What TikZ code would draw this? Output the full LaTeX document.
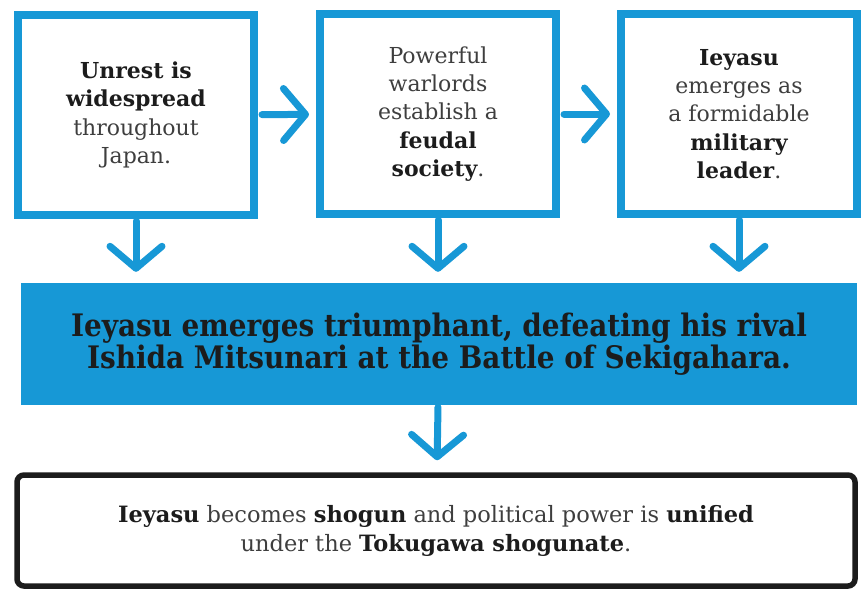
\documentclass[tikz,border=0pt]{standalone}
\usepackage{fontspec}
\setmainfont{DejaVu Serif}
\newfontfamily\bandfont{DejaVu Serif Condensed}
\usetikzlibrary{arrows.meta}
\definecolor{hblue}{RGB}{23,152,214}
\definecolor{ink}{RGB}{28,28,28}
\definecolor{softink}{RGB}{62,62,62}
\newcommand{\hl}[1]{{\bfseries\color{ink}#1}}

\begin{document}
\begin{tikzpicture}[x=1pt,y=-1pt,
    box/.style={draw=hblue,line width=8pt,minimum width=236pt,minimum height=200pt,
      align=center,text=softink,font=\fontsize{22}{28.3}\selectfont},
    flow/.style={draw=hblue,line width=7pt,line cap=round,
      -{Straight Barb[length=22pt,width=52pt,round]}}]
    \useasboundingbox (0,0) rectangle (862,589);
    % the three causes
    \node[box] (unrest) at (136,115) {\hl{Unrest is}\\ \hl{widespread}\\ throughout\\ Japan.};
    \node[box] (feudal) at (438,114) {Powerful\\ warlords\\ establish a\\ \hl{feudal}\\ \hl{society}.};
    \node[box] (rise) at (739,114) {\hl{Ieyasu}\\ emerges as\\ a formidable\\ \hl{military}\\ \hl{leader}.};
    % the battle
    \node[fill=hblue,minimum width=836pt,minimum height=122pt,align=center,text=ink,
      font=\bandfont\bfseries\fontsize{31}{29.5}\selectfont] (battle) at (439,344)
      {Ieyasu emerges triumphant, defeating his rival\\ Ishida Mitsunari at the Battle of Sekigahara.};
    % the outcome
    \node[draw=ink,line width=5.5pt,rounded corners=7pt,minimum width=838pt,minimum height=111pt,
      align=center,text=softink,font=\fontsize{22.5}{29}\selectfont] (shogun) at (436,530.5)
      {\hl{Ieyasu} becomes \hl{shogun} and political power is \hl{unified}\\
       under the \hl{Tokugawa shogunate}.};
    \draw[flow,shorten <=4pt,shorten >=7pt] (unrest) -- (feudal);
    \draw[flow,shorten <=4pt,shorten >=7pt] (feudal) -- (rise);
    \draw[flow,shorten <=2pt,shorten >=11pt] (unrest) -- (unrest |- battle.north);
    \draw[flow,shorten <=2pt,shorten >=11pt] (feudal) -- (feudal |- battle.north);
    \draw[flow,shorten <=2pt,shorten >=11pt] (rise) -- (rise |- battle.north);
    \draw[flow,shorten <=2pt,shorten >=12pt] (battle) -- (shogun);
\end{tikzpicture}
\end{document}
